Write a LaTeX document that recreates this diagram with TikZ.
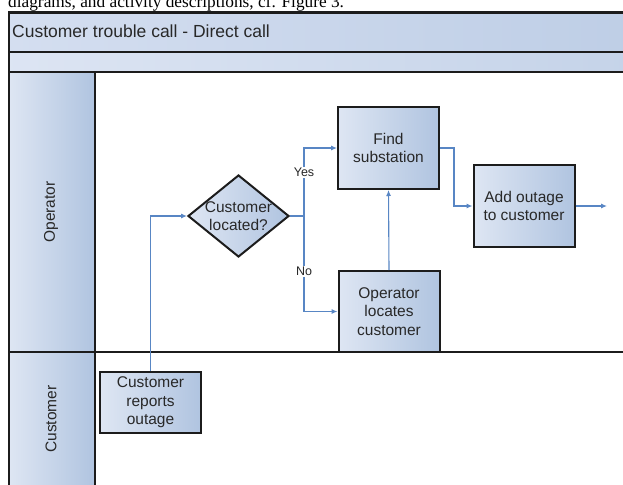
\documentclass[tikz,border=0pt]{standalone}
\usepackage{fontspec}
\setmainfont{Liberation Sans}
\newfontfamily\serifface{Liberation Serif}
\usetikzlibrary{arrows.meta,shapes.geometric}
\definecolor{boxlight}{RGB}{222,230,243}
\definecolor{boxdark}{RGB}{176,196,224}
\definecolor{barlight}{RGB}{212,222,240}
\definecolor{bardark}{RGB}{190,206,230}
\definecolor{flowblue}{RGB}{88,134,196}
\definecolor{inkgray}{RGB}{40,40,40}
\definecolor{framegray}{RGB}{28,28,28}
\tikzset{
  stepbox/.style={draw=framegray, line width=2pt, rectangle, left color=boxlight, right color=boxdark,
    minimum width=101pt, minimum height=82pt, inner sep=0pt, align=center, text=inkgray,
    font=\fontsize{15.5}{18.5}\selectfont},
  decision/.style={draw=framegray, line width=2pt, diamond, left color=boxlight, right color=boxdark,
    minimum width=101pt, minimum height=82pt, inner sep=0pt},
  dectext/.style={align=center, text=inkgray, font=\fontsize{15.5}{18.5}\selectfont, inner sep=0pt},
  flow/.style={draw=flowblue, line width=1.1pt, -{Latex[length=6pt,width=5pt]}},
  flowline/.style={draw=flowblue, line width=1.1pt},
  choice/.style={fill=white, inner sep=1pt, text=inkgray, font=\fontsize{12.5}{14}\selectfont},
  frameline/.style={draw=framegray, line width=2.2pt},
  lanetext/.style={rotate=90, text=inkgray, font=\fontsize{15.5}{18.5}\selectfont},
}
\begin{document}
\begin{tikzpicture}[x=1pt,y=-1pt]
\useasboundingbox (0,0) rectangle (623,484);
\begin{scope}
\clip (0,0) rectangle (623,484);
% top cut text
\node[anchor=base west, inner sep=0pt, font=\serifface\fontsize{17.3}{20}\selectfont] (cut) at (8,7.5)
  {diagrams, and activity descriptions, cf. Figure 3.};
% pool frame
\fill[white] (8.7,12.5) rectangle (640,500);
\shade[left color=barlight, right color=bardark] (8.7,12.5) rectangle (640,52);
\shade[left color=barlight!80!white, right color=bardark!90!white] (8.7,52) rectangle (640,72);
\shade[left color=boxlight, right color=boxdark] (8.7,72) rectangle (95,352);
\shade[left color=boxlight, right color=boxdark] (8.7,352) rectangle (95,500);
\draw[frameline] (640,12.5) -- (8.7,12.5) -- (8.7,500);
\draw[frameline] (8.7,52) -- (640,52);
\draw[frameline] (8.7,72) -- (640,72);
\draw[frameline] (8.7,352) -- (640,352);
\draw[frameline] (95,72) -- (95,500);
\node[anchor=base west, inner sep=0pt, text=inkgray, font=\fontsize{17.5}{20}\selectfont] (title) at (12,37.5)
  {Customer trouble call - Direct call};
\node[lanetext] (opl) at (51,212) {Operator};
\node[lanetext] (cul) at (51,419) {Customer};
% activities
\node[stepbox, minimum height=61pt] (report) at (150.5,402.5) {Customer\\reports\\outage};
\node[decision] (dec) at (238.5,216) {};
\node[dectext] (dectxt) at (238.5,216) {Customer\\located?};
\node[stepbox] (find) at (388.5,148) {Find\\substation};
\node[stepbox, minimum height=81pt] (locate) at (389,311.5) {Operator\\locates\\customer};
\node[stepbox] (add) at (524,206) {Add outage\\to customer};
\coordinate (split) at (304,216);
\coordinate (bend) at (454,148);
\coordinate (out) at (607,206);
% connectors
\draw[flow] (report.north) |- (dec.west);
\draw[flowline] (dec.east) -- (split);
\draw[flow] (split) |- node[choice, pos=0.32] {Yes} (find.west);
\draw[flow] (split) |- node[choice, pos=0.29] {No} (locate.west);
\draw[flow] (locate.north) -- (find.south);
\draw[flow] (find.east) -- (bend) |- (add.west);
\draw[flow] (add.east) -- (out);
\end{scope}
\end{tikzpicture}
\end{document}
